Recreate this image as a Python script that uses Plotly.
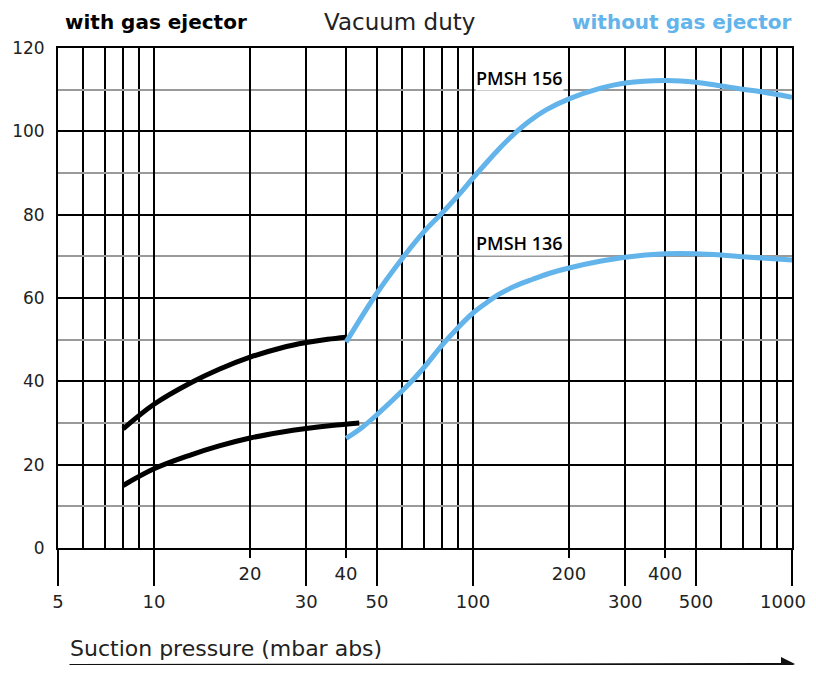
import numpy as np
import plotly.graph_objects as go

# ---------------- data ----------------
# with gas ejector (black)
ej_156_x = [8, 10, 13, 16, 20, 25, 30, 35, 40]
ej_156_y = [28.6, 34.5, 39.6, 42.9, 45.8, 48.0, 49.3, 50.1, 50.6]
ej_136_x = [8, 10, 13, 16, 20, 25, 30, 36, 44]
ej_136_y = [15.0, 19.0, 22.3, 24.5, 26.4, 27.8, 28.7, 29.4, 30.0]

# without gas ejector (blue)
pmsh156_x = [40, 50, 60, 70, 80, 90, 100, 110, 120, 133, 150, 170, 200, 250, 300, 400, 500, 600, 700, 800, 1000]
pmsh156_y = [49.4, 61.2, 69.5, 75.8, 80.4, 84.7, 88.8, 92.4, 95.6, 99.0, 102.4, 105.2, 107.8, 110.3, 111.6, 112.2, 111.8, 110.9, 110.1, 109.5, 108.2]
pmsh136_x = [40, 45, 50, 62, 70, 80, 90, 100, 110, 120, 135, 154, 175, 200, 250, 300, 400, 500, 600, 700, 800, 1000]
pmsh136_y = [26.3, 29.0, 32.0, 38.8, 43.2, 48.7, 53.0, 56.4, 58.8, 60.8, 62.8, 64.5, 66.0, 67.2, 68.8, 69.8, 70.6, 70.6, 70.3, 69.9, 69.6, 69.1]

labels = ["PMSH 156", "PMSH 136"]
label_pos_x = [140, 140]
label_pos_y = [112.8, 73.2]

# axis ticks
x_upper_ticks = [20, 40, 200, 400]
x_lower_ticks = [5, 10, 30, 50, 100, 300, 500]
x_last_tick = [1000]
x_minor_grid = [6, 7, 8, 9, 60, 70, 80, 90, 600, 700, 800, 900]
x_bold_grid = [70, 400]
y_ticks = [0, 20, 40, 60, 80, 100, 120]

BLUE = "#62B4EA"
FONT = "DejaVu Sans"
xr = [np.log10(5), np.log10(1000)]

fig = go.Figure()
for xs, ys in [(ej_156_x, ej_156_y), (ej_136_x, ej_136_y)]:
    fig.add_trace(go.Scatter(x=xs, y=ys, mode="lines", line=dict(color="black", width=5, shape="spline"),
                             showlegend=False, hoverinfo="skip"))
for xs, ys in [(pmsh156_x, pmsh156_y), (pmsh136_x, pmsh136_y)]:
    fig.add_trace(go.Scatter(x=xs, y=ys, mode="lines", line=dict(color=BLUE, width=5, shape="spline"),
                             showlegend=False, hoverinfo="skip"))
# invisible traces to anchor overlay axes
for ax in ["x2", "x3", "x4"]:
    fig.add_trace(go.Scatter(x=[5, 1000], y=[None, None], xaxis=ax, mode="none", showlegend=False, hoverinfo="skip"))

for t, lx, ly in zip(labels, label_pos_x, label_pos_y):
    fig.add_annotation(x=np.log10(lx), y=ly, text=t, showarrow=False,
                       font=dict(family="Open Sans", size=18, color="black", weight=600),
                       bgcolor="white", borderpad=0)

tickfont = dict(family=FONT, size=18, color="#222")
fig.update_layout(
    width=800, height=657,
    margin=dict(l=50, r=16, t=40, b=117),
    paper_bgcolor="white", plot_bgcolor="white",
    font=dict(family=FONT, color="#222"),
    xaxis=dict(type="log", range=xr, tickvals=x_upper_ticks, ticktext=[str(v) for v in x_upper_ticks],
               ticks="outside", ticklen=8, tickwidth=2, tickcolor="black",
               showgrid=True, gridcolor="black", gridwidth=1.5,
               minor=dict(tickvals=x_minor_grid, showgrid=True, gridcolor="black", gridwidth=1.5, ticks=""),
               showline=True, linecolor="black", linewidth=2, mirror=True,
               tickfont=tickfont, zeroline=False, automargin=False),
    xaxis2=dict(type="log", range=xr, overlaying="x", side="bottom", anchor="y",
                tickvals=x_lower_ticks, ticktext=[str(v) for v in x_lower_ticks],
                ticks="outside", ticklen=37, tickwidth=2, tickcolor="black",
                showgrid=True, gridcolor="black", gridwidth=1.5, ticklabeloverflow="allow",
                tickfont=tickfont, zeroline=False, automargin=False),
    xaxis3=dict(type="log", range=xr, overlaying="x", side="bottom", anchor="y",
                tickvals=x_bold_grid, showticklabels=False, ticks="",
                showgrid=True, gridcolor="black", gridwidth=2.3, zeroline=False),
    xaxis4=dict(type="log", range=xr, overlaying="x", side="bottom", anchor="y",
                tickvals=x_last_tick, ticktext=[str(v) for v in x_last_tick],
                ticks="outside", ticklen=37, tickwidth=2, tickcolor="black",
                ticklabelshift=-9, ticklabeloverflow="allow", showgrid=False,
                tickfont=tickfont, zeroline=False, automargin=False),
    yaxis=dict(range=[0, 120], tickvals=y_ticks, ticks="", ticklabelstandoff=8,
               showgrid=True, gridcolor="black", gridwidth=2,
               minor=dict(dtick=10, showgrid=True, gridcolor="#9a9a9a", gridwidth=1.5),
               showline=True, linecolor="black", linewidth=2, mirror=True,
               tickfont=dict(family=FONT, size=17, color="#222"), zeroline=False, automargin=False),
)

# header texts (positions relative to the plot area: 734 x 500 px)
fig.add_annotation(xref="paper", yref="paper", x=(63 - 58) / 734, y=1 + (48 - 22) / 500, xanchor="left", yanchor="middle",
                   text="<b>with gas ejector</b>", showarrow=False, font=dict(family=FONT, size=20, color="black"))
fig.add_annotation(xref="paper", yref="paper", x=(399 - 58) / 734, y=1 + (48 - 22) / 500, xanchor="center", yanchor="middle",
                   text="Vacuum duty", showarrow=False, font=dict(family=FONT, size=23, color="#222"))
fig.add_annotation(xref="paper", yref="paper", x=(793 - 58) / 734, y=1 + (48 - 22) / 500, xanchor="right", yanchor="middle",
                   text="<b>without gas ejector</b>", showarrow=False, font=dict(family=FONT, size=20, color=BLUE))
# x-axis title and arrow
fig.add_annotation(xref="paper", yref="paper", x=(68 - 58) / 734, y=-(648 - 548) / 500, xanchor="left", yanchor="middle",
                   text="Suction pressure (mbar abs)", showarrow=False, font=dict(family=FONT, size=22, color="#222"))
fig.add_annotation(xref="paper", yref="paper", x=(795 - 58) / 734, y=-(669 - 548) / 500,
                   ax=-727, ay=0, axref="pixel", ayref="pixel", text="", showarrow=True,
                   arrowhead=2, arrowsize=1.4, arrowwidth=2, arrowcolor="#111")

fig.write_html("out.html")
